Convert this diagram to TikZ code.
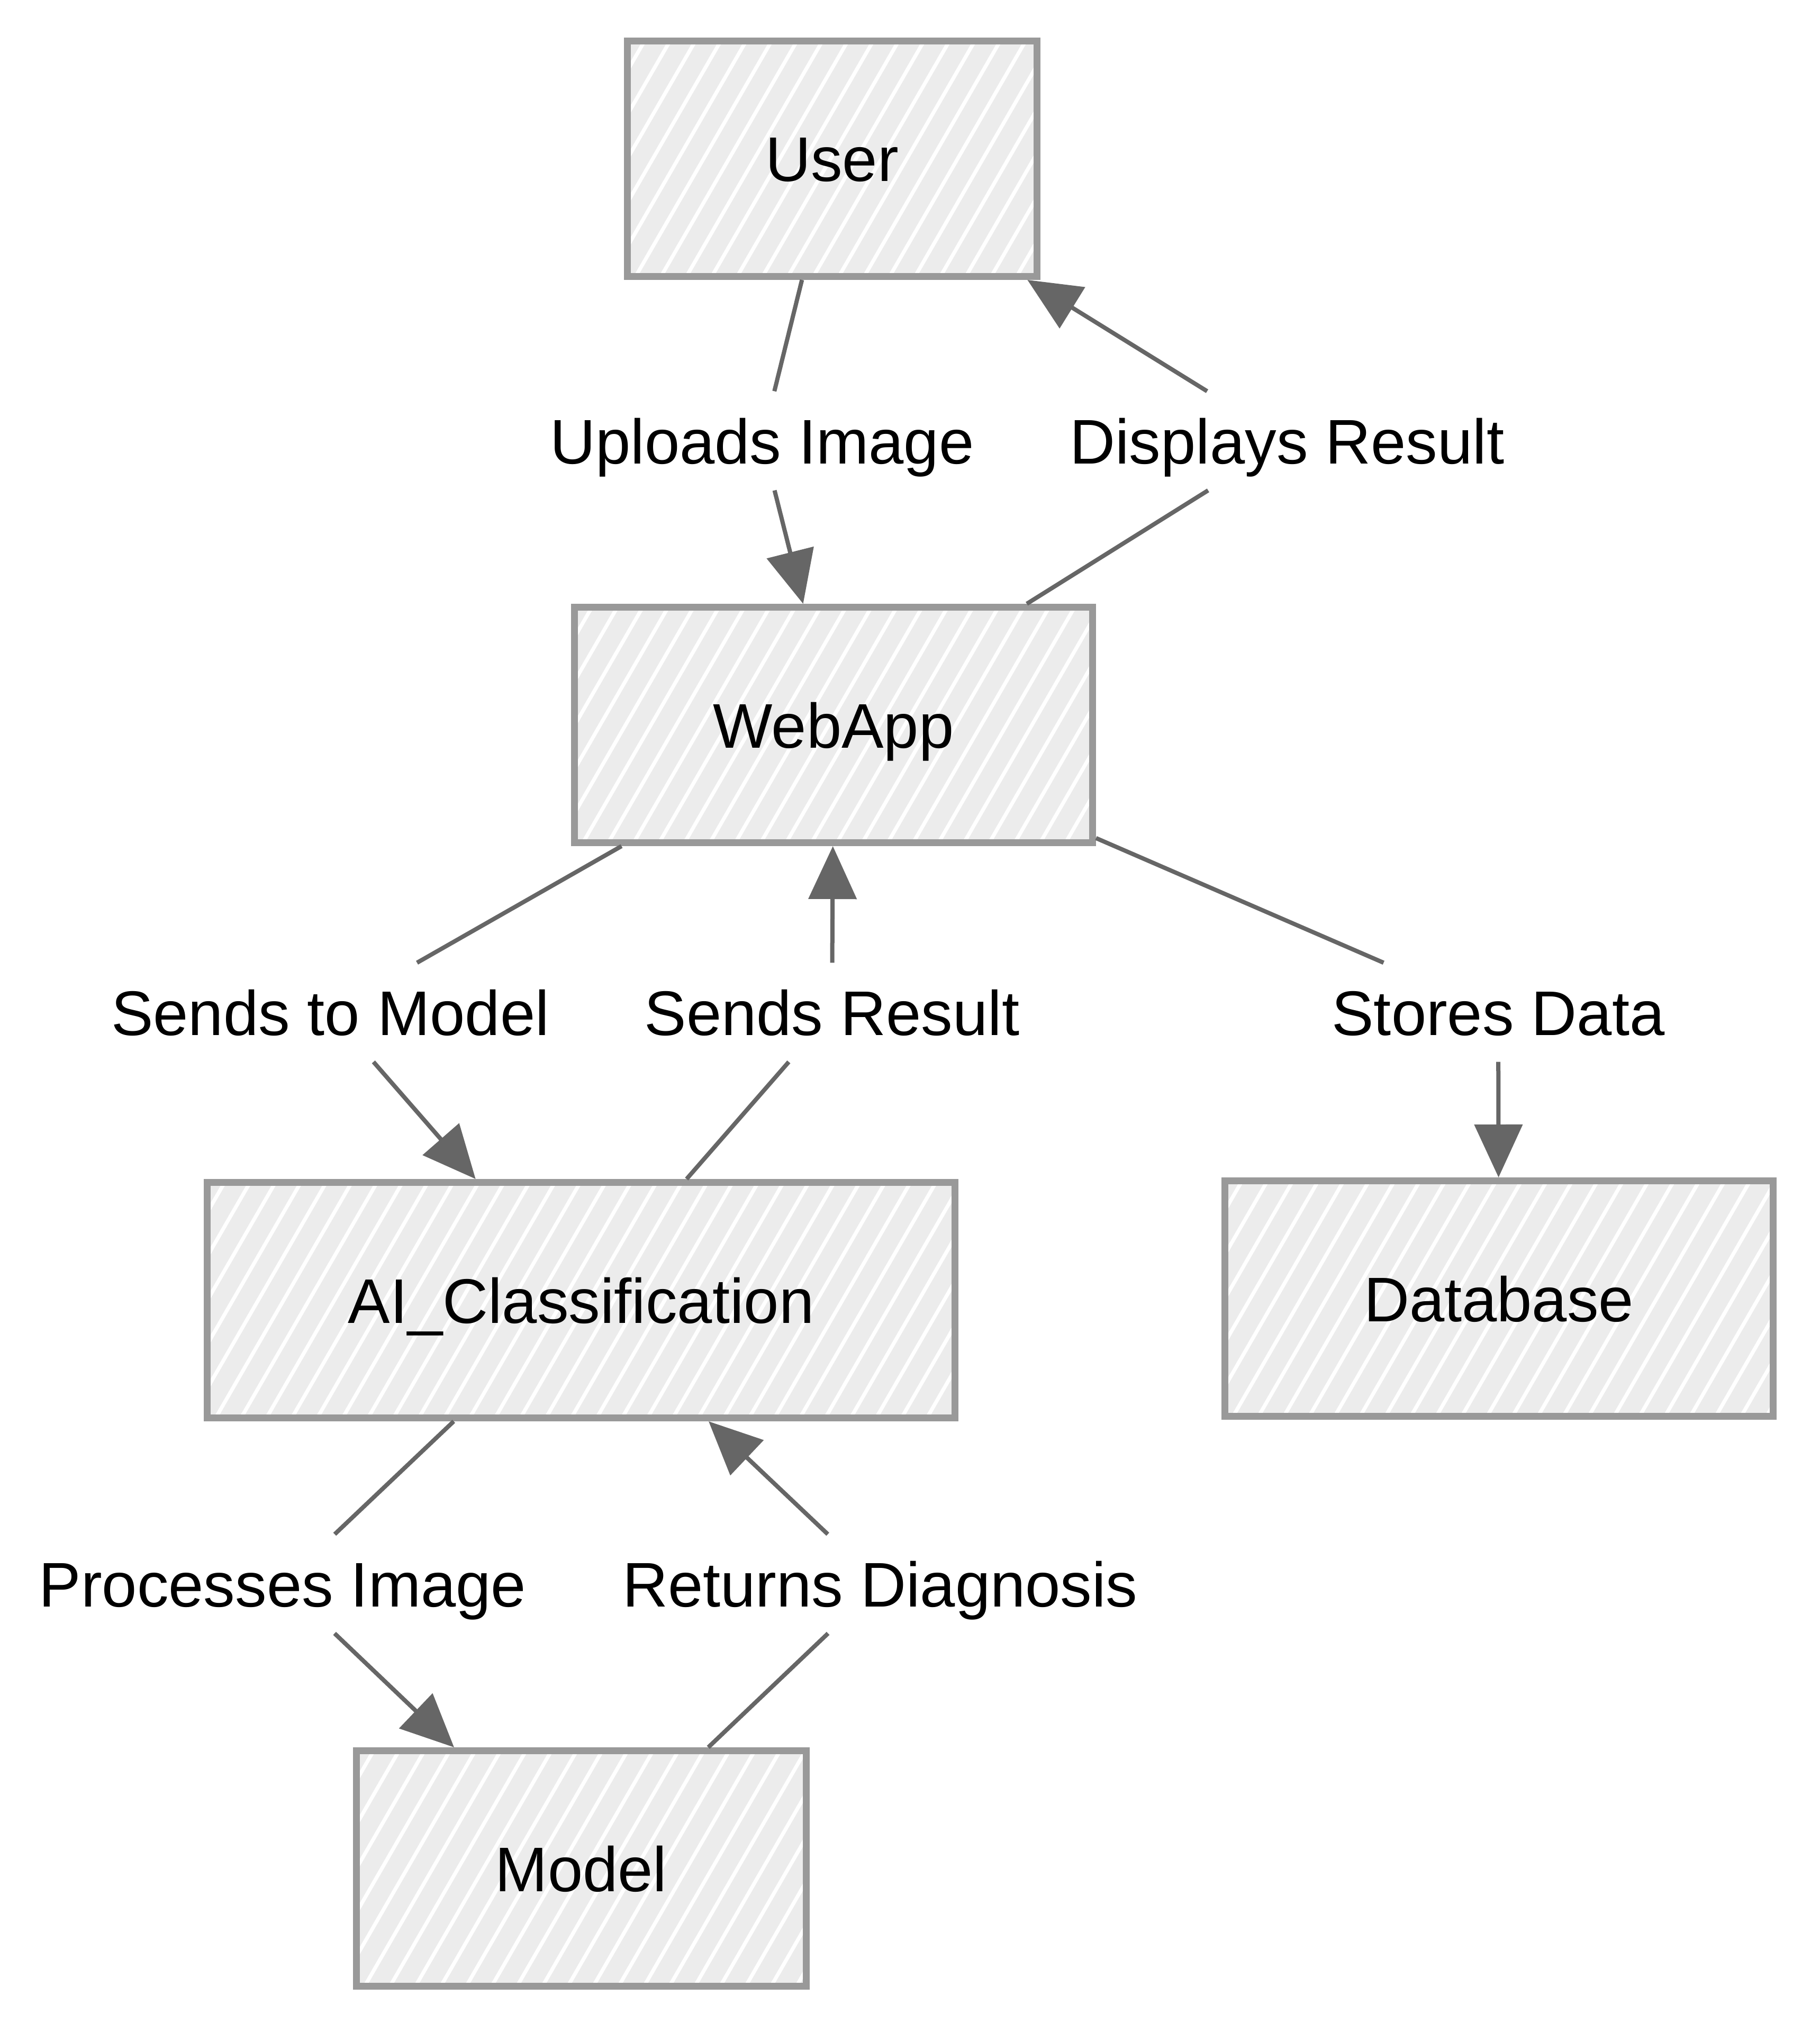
\documentclass[tikz,border=0pt]{standalone}
\usepackage{fontspec}
\setmainfont{Liberation Sans}
\usetikzlibrary{arrows.meta, calc}
\definecolor{boxfill}{HTML}{ECECEC}
\definecolor{boxline}{HTML}{999999}
\definecolor{edgegray}{HTML}{666666}
\tikzset{
  hachure/.style={path picture={
    \foreach \k in {0,...,40}
      \draw[white, line width=0.07cm]
        ($(path picture bounding box.south west)+(\k*0.48-3.2,0)$) -- ++(60:6);}},
  block/.style={draw=boxline, line width=0.13cm, fill=boxfill, hachure,
    minimum height=4.45cm, text height=0.86cm, text depth=0cm, inner sep=0pt},
  tag/.style={fill=white, minimum height=1.86cm, text height=0.86cm,
    text depth=0cm, inner xsep=0.3cm, inner ysep=0pt},
  link/.style={draw=edgegray, line width=0.08cm},
  flow/.style={link, -{Triangle[length=1.0cm, width=0.9cm]}},
  every node/.append style={font=\fontsize{33.9pt}{40pt}\selectfont}
}

\begin{document}
\begin{tikzpicture}
\useasboundingbox (0,0) rectangle (34.39,-38.40);
% boxes
\node[block, minimum width=7.74cm] (user) at (15.72,-3.00) {User};
\node[block, minimum width=9.79cm] (webapp) at (15.75,-13.70) {WebApp};
\node[block, minimum width=14.13cm] (aiclass) at (10.98,-24.57) {AI\_Classification};
\node[block, minimum width=10.36cm] (database) at (28.32,-24.54) {Database};
\node[block, minimum width=8.50cm] (model) at (10.98,-35.31) {Model};
% edge labels
\node[tag] (uploads) at (14.40,-8.33) {Uploads Image};
\node[tag] (displays) at (24.32,-8.33) {Displays Result};
\node[tag] (tomodel) at (6.24,-19.13) {Sends to Model};
\node[tag] (sendsres) at (15.72,-19.13) {Sends Result};
\node[tag] (stores) at (28.31,-19.13) {Stores Data};
\node[tag] (processes) at (5.34,-29.93) {Processes Image};
\node[tag] (returns) at (16.63,-29.93) {Returns Diagnosis};
% edges
\draw[link] (user) -- (uploads);
\draw[flow] (uploads) -- (webapp);
\draw[link] (webapp) -- (displays);
\draw[flow] (displays) -- (user);
\draw[link] (webapp) -- (tomodel);
\draw[flow] (tomodel) -- (aiclass);
\draw[link] (aiclass) -- (sendsres);
\draw[flow] (sendsres) -- (webapp);
\draw[link] (webapp) -- (stores);
\draw[flow] (stores) -- (database);
\draw[link] (aiclass) -- (processes);
\draw[flow] (processes) -- (model);
\draw[link] (model) -- (returns);
\draw[flow] (returns) -- (aiclass);
\end{tikzpicture}
\end{document}
